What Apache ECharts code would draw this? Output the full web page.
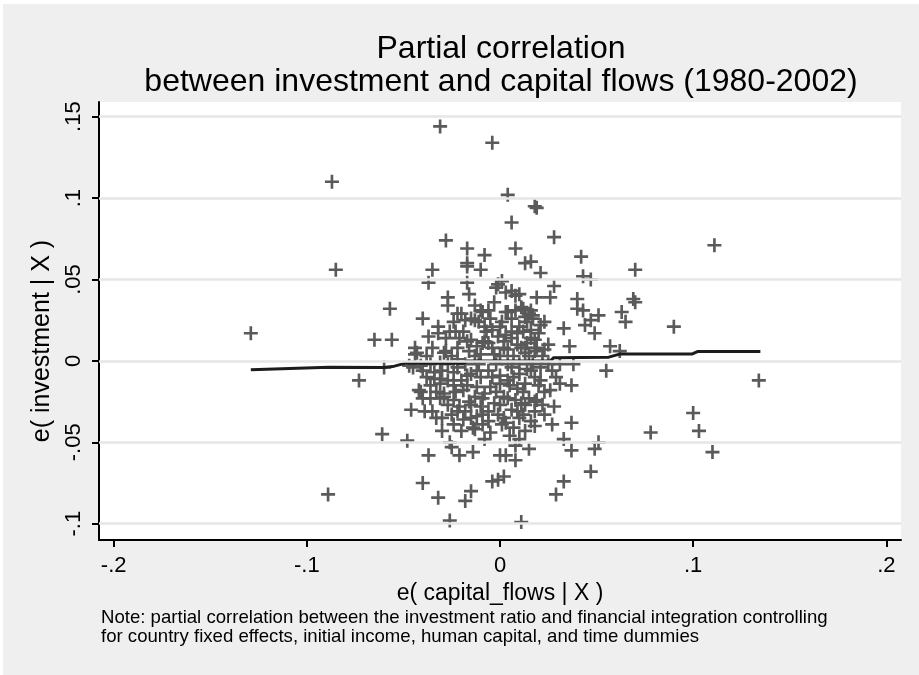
<!DOCTYPE html>
<html>
<head>
<meta charset="utf-8">
<script src="https://cdn.jsdelivr.net/npm/echarts@6/dist/echarts.min.js"></script>
<style>
html,body{margin:0;padding:0;background:#ffffff;}
#chart{width:919px;height:675px;}
</style>
</head>
<body>
<div id="chart"></div>
<script>
// ---- data ----
const titleLines = ['Partial correlation', 'between investment and capital flows (1980-2002)'];
const xTitle = 'e( capital_flows | X )';
const yTitle = 'e( investment | X )';
const noteLines = [
  'Note: partial correlation between the investment ratio and financial integration controlling',
  'for country fixed effects, initial income, human capital, and time dummies'
];
const xTicks = [-0.2, -0.1, 0, 0.1, 0.2];
const yTicks = [-0.1, -0.05, 0, 0.05, 0.1, 0.15];
const xRange = [-0.2076, 0.2076];
const yRange = [-0.110, 0.159];

// residuals: capital flows (x) and investment (y)
const capX = [
-0.129,-0.087,-0.085,-0.089,-0.073,-0.065,-0.056,-0.057,-0.060,-0.061,
-0.048,-0.031,-0.004,0.004,0.018,0.019,0.006,-0.028,0.028,0.008,
-0.017,-0.008,0.111,0.042,-0.017,-0.010,-0.035,-0.037,-0.017,-0.017,
0.013,0.016,0.021,0.070,0.043,0.047,0.028,0.001,-0.001,-0.002,
0.006,0.003,0.010,0.008,-0.027,-0.016,0.019,0.026,0.040,0.069,
0.070,0.040,0.043,0.051,0.063,0.065,0.090,0.047,0.044,0.033,
0.023,0.021,0.049,0.057,0.062,0.036,0.025,0.018,0.013,0.055,
0.134,0.100,0.078,0.103,0.110,0.037,0.031,0.026,0.038,0.031,
0.018,0.028,0.023,0.037,0.016,0.027,0.018,0.007,0.010,0.008,
0.015,0.033,0.037,0.051,0.049,0.047,0.003,0.008,0.000,0.002,
-0.001,-0.004,0.033,0.029,0.011,-0.026,-0.040,-0.032,-0.015,-0.018,
-0.026,-0.025,-0.037,-0.021,-0.014,-0.046,-0.041,-0.035,-0.030,-0.025,
-0.019,-0.014,-0.013,-0.005,-0.012,-0.009,-0.001,0.006,-0.003,-0.010,
-0.016,-0.024,-0.029,-0.036,-0.042,-0.045,-0.040,-0.047,-0.041,-0.034,
-0.031,-0.034,-0.031,-0.029,-0.024,-0.017,-0.010,0.000,0.006,0.014,
0.021,-0.031,-0.022,-0.022,-0.015,-0.019,-0.008,-0.012,-0.005,0.000,
0.009,0.013,0.019,0.011,-0.003,0.004,0.013,0.018,0.023,-0.009,
-0.003,0.004,0.008,0.016,0.013,0.017,0.012,0.011,0.015,0.017,
0.014,0.009,0.010,0.006,0.000,-0.005,-0.008,-0.013,-0.018,-0.020,
-0.022,-0.015,-0.010,-0.006,-0.009,-0.013,-0.027,-0.040,-0.032,-0.032,
-0.026,-0.037,-0.044,-0.043,-0.044,-0.029,-0.028,-0.017,-0.012,-0.008,
-0.001,-0.006,0.002,-0.015,0.003,
-0.020,-0.006,0.004,0.010,-0.013,0.002,0.008,-0.021,-0.006,0.003,
0.012,-0.018,0.003,-0.004,0.007,-0.010,-0.016,0.016,0.020,-0.023,
-0.002,0.009,-0.027,0.005,-0.008,0.021,
// dense core
-0.024,-0.011,0.001,0.014,
-0.019,-0.007,0.006,0.012,
-0.028,-0.021,0.006,0.016,
-0.035,-0.022,-0.004,0.002,0.011,0.019,
-0.038,-0.025,-0.013,0.000,0.015,0.022,
-0.036,-0.027,-0.018,-0.011,0.004,0.010,0.017,0.025,
-0.030,-0.012,0.016,0.027,
-0.038,-0.004,0.007,0.018,0.029,
-0.036,-0.024,-0.017,0.005,0.020,
-0.033,-0.023,-0.002,0.012,0.023,
-0.040,-0.031,-0.009,0.004,0.015,
-0.027,-0.015,0.000,0.013,0.022,
-0.039,-0.022,-0.006,0.009,0.018,
-0.033,-0.015,0.002,0.010,
-0.024,-0.009,0.001,
-0.030,-0.020,0.013
];
const invY = [
0.017,0.110,0.056,-0.082,-0.012,0.013,0.013,0.032,-0.004,-0.045,
-0.049,0.144,0.134,0.102,0.095,0.094,0.085,0.074,0.076,0.069,
0.069,0.065,0.071,0.064,0.060,0.056,0.056,0.048,0.058,0.048,
0.060,0.061,0.054,0.056,0.052,0.050,0.046,0.049,0.047,0.045,
0.043,0.042,0.041,0.040,0.039,0.041,0.039,0.039,0.038,0.038,
0.036,0.032,0.031,0.028,0.030,0.024,0.021,0.025,0.022,0.020,
0.024,0.022,0.017,0.009,0.006,0.009,0.010,0.013,0.008,-0.006,
-0.012,-0.032,-0.044,-0.043,-0.056,-0.015,-0.014,-0.018,-0.002,-0.002,
-0.025,-0.028,-0.033,-0.038,-0.037,-0.039,-0.040,-0.041,-0.048,-0.052,
-0.054,-0.048,-0.055,-0.050,-0.054,-0.068,-0.058,-0.061,-0.058,-0.071,
-0.073,-0.074,-0.074,-0.082,-0.099,-0.098,-0.075,-0.084,-0.080,-0.086,
-0.050,-0.053,-0.058,-0.058,-0.056,-0.030,-0.019,-0.031,-0.035,-0.033,
-0.036,-0.041,-0.042,-0.044,-0.034,-0.033,-0.033,-0.030,-0.026,-0.028,
-0.025,-0.024,-0.022,-0.023,-0.018,-0.004,-0.006,-0.003,-0.003,-0.011,
-0.011,-0.007,-0.014,-0.020,-0.007,-0.009,-0.010,-0.009,-0.004,-0.005,
-0.004,-0.001,0.001,-0.004,-0.008,-0.018,-0.020,-0.016,-0.016,-0.014,
-0.017,-0.014,-0.024,-0.026,0.004,0.007,0.005,0.006,0.007,0.011,
0.036,0.030,0.031,0.031,0.027,0.028,0.032,0.033,0.029,0.026,
0.011,0.017,0.021,0.026,0.021,0.026,0.021,0.025,0.025,0.029,
0.029,0.026,0.031,0.031,0.030,0.034,0.034,0.026,0.021,0.017,
0.018,0.015,0.008,0.005,0.004,0.005,0.006,0.012,0.009,0.012,
0.015,0.011,0.012,0.013,0.030,
-0.012,-0.006,-0.012,-0.008,-0.022,-0.022,-0.024,-0.028,-0.037,-0.038,
-0.033,-0.031,0.016,0.019,0.003,0.004,0.006,0.019,0.017,0.018,
-0.002,0.010,-0.012,-0.046,-0.048,-0.012,
// dense core
0.024,0.024,0.024,0.024,
0.018,0.018,0.018,0.018,
0.014,0.014,0.014,0.014,
0.008,0.008,0.008,0.008,0.008,0.008,
0.003,0.003,0.003,0.003,0.003,0.003,
-0.002,-0.002,-0.002,-0.002,-0.002,-0.002,-0.002,-0.002,
-0.006,-0.006,-0.006,-0.006,
-0.010,-0.010,-0.010,-0.010,-0.010,
-0.015,-0.015,-0.015,-0.015,-0.015,
-0.019,-0.019,-0.019,-0.019,-0.019,
-0.023,-0.023,-0.023,-0.023,-0.023,
-0.027,-0.027,-0.027,-0.027,-0.027,
-0.031,-0.031,-0.031,-0.031,-0.031,
-0.035,-0.035,-0.035,-0.035,
-0.039,-0.039,-0.039,
-0.043,-0.043,-0.043
];

// fitted (smoothed) line
const fitX = [-0.129,-0.0886,-0.0602,-0.0556,-0.0488,-0.0188,-0.0168,0.0262,0.0278,0.0563,0.0624,0.0996,0.1022,0.1348];
const fitY = [-0.0055,-0.0039,-0.0041,-0.0035,-0.0014,-0.0014,0.0000,0.0000,0.0020,0.0023,0.0043,0.0043,0.0057,0.0057];

// ---- build chart ----
const pts = capX.map((x, i) => [x, invY[i]]);
const fit = fitX.map((x, i) => [x, fitY[i]]);
const fmt = v => {
  if (Math.abs(v) < 1e-9) return '0';
  return String(+v.toFixed(2)).replace('0.', '.');
};
const FONT = 'Liberation Sans, Arial, sans-serif';
const plus = 'path://M4.05,0H5.95V4.05H10V5.95H5.95V10H4.05V5.95H0V4.05H4.05Z';

const chart = echarts.init(document.getElementById('chart'), null, {renderer: 'canvas'});
chart.setOption({
  animation: false,
  backgroundColor: '#efefef',
  graphic: [
    {type: 'rect', left: 0, top: 0, shape: {width: 919, height: 4}, style: {fill: '#ffffff'}, silent: true},
    {type: 'rect', left: 0, top: 0, shape: {width: 3, height: 675}, style: {fill: '#ffffff'}, silent: true},
    {type: 'text', x: 501, y: 49, style: {text: titleLines[0], font: '32px ' + FONT, fill: '#000', align: 'center', verticalAlign: 'middle'}},
    {type: 'text', x: 501, y: 82, style: {text: titleLines[1], font: '32px ' + FONT, fill: '#000', align: 'center', verticalAlign: 'middle'}},
    {type: 'text', x: 101, y: 618, style: {text: noteLines[0], font: '18.6px ' + FONT, fill: '#000', align: 'left', verticalAlign: 'middle'}},
    {type: 'text', x: 101, y: 637, style: {text: noteLines[1], font: '18.6px ' + FONT, fill: '#000', align: 'left', verticalAlign: 'middle'}}
  ],
  grid: {
    left: 99, right: 18, top: 102, bottom: 135,
    show: true, backgroundColor: '#ffffff', borderWidth: 0,
    containLabel: false, outerBoundsMode: 'none'
  },
  xAxis: {
    type: 'value', min: xRange[0], max: xRange[1],
    name: xTitle, nameLocation: 'middle', nameGap: 36,
    nameTextStyle: {fontFamily: FONT, fontSize: 23, color: '#000'},
    axisLine: {show: true, onZero: false, lineStyle: {color: '#000', width: 2}},
    axisTick: {show: true, length: 7, lineStyle: {color: '#000', width: 2}, customValues: xTicks},
    axisLabel: {show: true, customValues: xTicks, formatter: fmt, fontFamily: FONT, fontSize: 22, color: '#000', margin: 15},
    splitLine: {show: false}
  },
  yAxis: {
    type: 'value', min: yRange[0], max: yRange[1],
    name: yTitle, nameLocation: 'middle', nameGap: 39,
    nameTextStyle: {fontFamily: FONT, fontSize: 25, color: '#000', padding: [0, 40, 0, 0]},
    axisLine: {show: true, onZero: false, lineStyle: {color: '#000', width: 2}},
    axisTick: {show: true, length: 7, lineStyle: {color: '#000', width: 2}, customValues: yTicks},
    axisLabel: {show: true, customValues: yTicks, formatter: fmt, rotate: 90, fontFamily: FONT, fontSize: 22, color: '#000', margin: 14},
    splitLine: {show: false}
  },
  series: [
    {
      type: 'line', data: [], silent: true, z: 1,
      markLine: {
        silent: true, symbol: ['none', 'none'], animation: false,
        label: {show: false},
        lineStyle: {color: '#e6e6e6', width: 2.5, type: 'solid'},
        data: yTicks.map(v => ({yAxis: v}))
      }
    },
    {
      type: 'scatter', data: pts, z: 2,
      symbol: plus, symbolSize: 14,
      itemStyle: {color: '#5a5a5a', opacity: 1}
    },
    {
      type: 'line', data: fit, z: 3, symbol: 'none', smooth: false,
      lineStyle: {color: '#1c1c1c', width: 3}
    }
  ]
});
</script>
</body>
</html>
